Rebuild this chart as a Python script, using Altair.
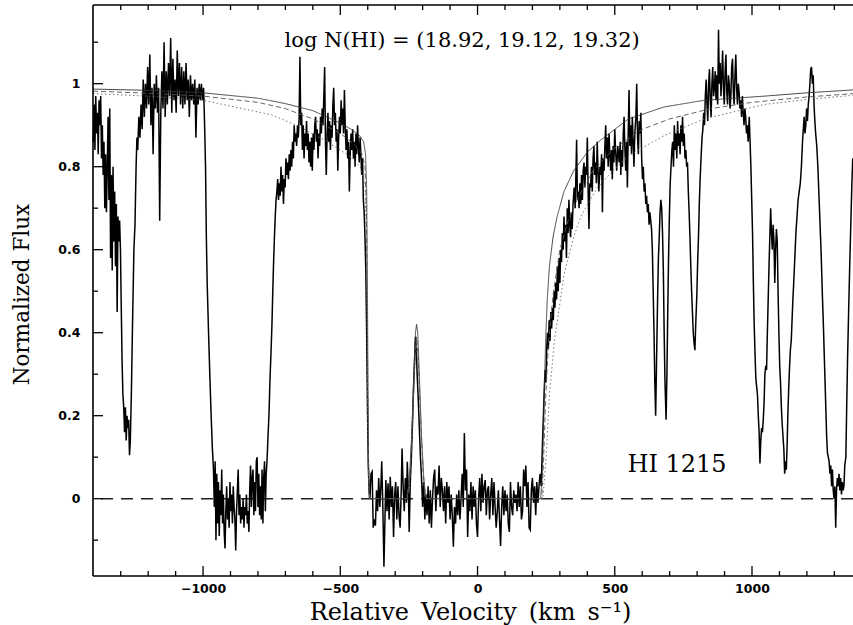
import altair as alt
import pandas as pd

# ---------------- data ----------------
# Observed spectrum, (relative velocity km/s, normalized flux), in segments
seg_a = [(-1400, 0.86), (-1397, 0.95), (-1394, 0.84), (-1391, 0.97), (-1388, 0.88), (-1385, 0.93),
         (-1382, 0.83), (-1379, 0.96), (-1376, 0.90), (-1373, 0.97), (-1370, 0.82), (-1367, 0.90),
         (-1364, 0.78), (-1361, 0.86), (-1358, 0.70), (-1355, 0.83), (-1352, 0.69), (-1349, 0.80),
         (-1346, 0.92), (-1343, 0.72), (-1340, 0.94), (-1337, 0.58), (-1334, 0.78), (-1331, 0.55),
         (-1328, 0.80), (-1325, 0.62), (-1322, 0.74), (-1319, 0.56), (-1316, 0.71), (-1313, 0.45),
         (-1310, 0.68), (-1307, 0.62), (-1304, 0.67), (-1301, 0.60), (-1298, 0.46), (-1295, 0.33),
         (-1292, 0.25), (-1289, 0.22), (-1286, 0.16), (-1283, 0.22), (-1280, 0.14), (-1277, 0.20),
         (-1274, 0.17), (-1271, 0.19), (-1268, 0.105), (-1265, 0.14), (-1261, 0.26), (-1257, 0.42),
         (-1252, 0.60), (-1248, 0.66), (-1244, 0.80), (-1241, 0.87)]
seg_b = [(-1238, 0.84), (-1234, 0.92), (-1230, 0.87), (-1226, 0.95), (-1222, 0.89), (-1218, 1.01),
         (-1214, 0.92), (-1210, 1.00), (-1206, 0.94), (-1202, 1.04), (-1198, 0.95), (-1194, 1.07),
         (-1190, 0.90), (-1186, 0.99), (-1182, 0.83), (-1178, 1.00), (-1174, 0.94), (-1170, 1.02),
         (-1166, 0.93), (-1162, 0.99), (-1158, 0.67), (-1154, 0.93), (-1150, 1.03), (-1146, 0.94),
         (-1142, 1.10), (-1138, 0.92), (-1134, 1.03), (-1130, 0.95), (-1126, 1.05), (-1122, 0.97),
         (-1118, 1.11), (-1114, 0.93), (-1110, 1.06), (-1106, 0.96), (-1102, 1.01), (-1098, 0.93),
         (-1094, 1.08), (-1090, 0.97), (-1086, 1.05), (-1082, 0.95), (-1078, 1.04), (-1074, 0.94),
         (-1070, 1.03), (-1066, 0.95), (-1062, 1.05), (-1058, 0.96), (-1054, 1.01), (-1050, 0.92),
         (-1046, 1.02), (-1042, 0.96), (-1038, 1.00), (-1034, 0.95), (-1030, 1.01), (-1026, 0.87),
         (-1022, 0.99), (-1018, 0.95), (-1014, 1.00), (-1010, 0.96), (-1006, 1.00), (-1002, 0.96),
         (-998, 0.99), (-994, 0.89), (-991, 0.80), (-988, 0.63), (-985, 0.52), (-980, 0.40),
         (-975, 0.29), (-970, 0.19), (-966, 0.12), (-962, 0.07)]
seg_c = [(-959, -0.02), (-956, 0.09), (-953, -0.10), (-950, 0.06), (-947, -0.06), (-944, 0.04),
         (-941, -0.09), (-938, 0.02), (-935, -0.04), (-932, 0.07), (-929, -0.06), (-926, 0.01),
         (-923, -0.08), (-920, -0.12), (-917, -0.03), (-914, 0.03), (-911, -0.05), (-908, 0.00),
         (-905, -0.07), (-902, 0.04), (-899, -0.03), (-896, 0.01), (-893, -0.06), (-890, 0.03),
         (-887, -0.02), (-884, -0.05), (-881, -0.125), (-878, -0.03), (-875, 0.02), (-872, 0.07),
         (-869, -0.04), (-866, 0.01), (-863, -0.06), (-860, -0.02), (-857, -0.05), (-854, 0.00),
         (-851, -0.07), (-848, -0.02), (-845, -0.04), (-842, 0.01), (-839, -0.06), (-836, -0.03),
         (-833, -0.08), (-830, 0.02), (-827, 0.08), (-824, -0.02), (-821, 0.05), (-818, 0.07),
         (-815, -0.04), (-812, 0.04), (-809, -0.03), (-806, 0.09), (-803, 0.10), (-800, -0.02),
         (-797, 0.06), (-794, -0.04), (-791, 0.03), (-788, -0.05), (-785, 0.07), (-782, -0.06),
         (-779, 0.05), (-776, 0.09), (-773, -0.03), (-770, 0.06), (-767, 0.09), (-764, 0.14),
         (-760, 0.20), (-756, 0.29), (-752, 0.36), (-749, 0.42), (-746, 0.50), (-743, 0.57),
         (-740, 0.63), (-737, 0.68), (-734, 0.72), (-731, 0.74)]
seg_d = [(-728, 0.77), (-725, 0.72), (-722, 0.76), (-719, 0.73), (-716, 0.80), (-713, 0.74),
         (-710, 0.78), (-707, 0.71), (-704, 0.77), (-701, 0.75), (-698, 0.82), (-695, 0.78),
         (-692, 0.81), (-689, 0.77), (-686, 0.83), (-683, 0.79), (-680, 0.84), (-677, 0.80),
         (-674, 0.86), (-671, 0.82), (-668, 0.90), (-665, 0.86), (-662, 0.88), (-659, 0.85),
         (-656, 0.90), (-653, 0.87), (-650, 0.92), (-647, 1.065), (-644, 0.90), (-641, 0.93),
         (-638, 0.84), (-635, 0.90), (-632, 0.82), (-629, 0.88), (-626, 0.85), (-623, 0.91),
         (-620, 0.84), (-617, 0.88), (-614, 0.81), (-611, 0.86), (-608, 0.80), (-605, 0.87),
         (-602, 0.79), (-599, 0.88), (-596, 0.84), (-593, 0.90), (-590, 0.92), (-587, 0.86),
         (-584, 0.89), (-581, 0.82), (-578, 0.88), (-575, 0.85), (-572, 0.92), (-569, 0.88),
         (-566, 0.94), (-563, 0.90), (-560, 0.97), (-557, 1.04), (-554, 0.86), (-551, 0.78),
         (-548, 0.88), (-545, 0.93), (-542, 0.86), (-539, 0.91), (-536, 0.84), (-533, 0.90),
         (-530, 0.87), (-527, 0.95), (-524, 0.99), (-521, 0.90), (-518, 0.93), (-515, 0.86),
         (-512, 0.89), (-509, 0.79), (-506, 0.87), (-503, 0.92), (-500, 0.88), (-497, 0.96),
         (-494, 0.90), (-491, 0.94), (-488, 0.88), (-485, 0.985), (-482, 0.90), (-479, 0.84),
         (-476, 0.89), (-473, 0.82), (-470, 0.86), (-467, 0.74), (-464, 0.83), (-461, 0.88),
         (-458, 0.84), (-455, 0.89), (-452, 0.82), (-449, 0.86), (-446, 0.80), (-443, 0.88),
         (-440, 0.83), (-437, 0.90), (-434, 0.85), (-431, 0.81), (-428, 0.87), (-425, 0.83),
         (-422, 0.78), (-419, 0.82), (-416, 0.72), (-413, 0.69), (-410, 0.63), (-407, 0.55),
         (-404, 0.40), (-401, 0.22), (-398, 0.08), (-395, 0.02)]
seg_e = [(-392, 0.0), (-388, 0.06), (-384, 0.065), (-380, -0.07), (-376, -0.05), (-372, -0.065),
         (-368, 0.02), (-364, -0.03), (-360, 0.05), (-356, -0.02), (-352, 0.03), (-349, 0.09),
         (-345, -0.02), (-341, -0.164), (-337, -0.04), (-334, 0.045), (-330, -0.03), (-326, 0.037),
         (-322, -0.05), (-318, 0.053), (-314, -0.02), (-310, 0.03), (-306, -0.092), (-302, 0.01),
         (-298, 0.04), (-294, -0.05), (-290, 0.03), (-286, -0.04), (-282, -0.07), (-278, 0.02),
         (-275, 0.121), (-271, 0.03), (-267, -0.03), (-263, 0.05), (-259, -0.01), (-256, 0.089),
         (-252, 0.02), (-249, -0.08), (-245, 0.04), (-241, 0.10), (-237, 0.18), (-233, 0.27),
         (-229, 0.34), (-226, 0.39), (-223, 0.36), (-220, 0.30), (-216, 0.24), (-212, 0.17),
         (-208, 0.10), (-204, 0.05), (-200, -0.02), (-196, 0.04), (-192, -0.05), (-188, 0.01),
         (-184, -0.04), (-180, 0.03), (-176, -0.06), (-172, 0.02), (-168, -0.07), (-164, 0.00),
         (-160, 0.05), (-156, 0.07), (-152, -0.03), (-148, 0.03), (-144, 0.01), (-140, 0.08),
         (-136, -0.02), (-132, 0.05), (-128, 0.02), (-124, -0.03), (-120, 0.03), (-116, -0.06),
         (-112, 0.04), (-108, -0.01), (-104, 0.03), (-100, -0.05), (-96, 0.01), (-92, -0.04),
         (-88, -0.116), (-84, -0.02), (-80, -0.06), (-76, 0.01), (-72, -0.04), (-68, 0.02),
         (-64, -0.05), (-60, 0.00), (-56, 0.06), (-52, -0.02), (-48, 0.158), (-44, 0.02),
         (-40, 0.07), (-36, -0.092), (-32, 0.01), (-28, -0.03), (-24, 0.04), (-20, -0.05),
         (-16, 0.03), (-12, -0.02), (-8, 0.02), (-4, -0.06), (0, -0.092), (4, 0.0), (8, 0.05),
         (12, -0.03), (16, 0.06), (20, -0.01), (24, 0.03), (28, 0.045), (32, -0.04), (36, 0.02),
         (40, 0.03), (44, -0.05), (48, 0.01), (52, 0.05), (56, -0.04), (60, 0.04), (64, -0.02),
         (68, -0.07), (72, -0.03), (76, 0.02), (80, -0.05), (84, -0.114), (88, -0.02), (92, 0.03),
         (96, -0.04), (100, 0.02), (104, -0.03), (108, 0.01), (112, -0.06), (116, -0.08),
         (120, 0.04), (124, -0.02), (128, -0.04), (132, 0.02), (136, -0.01), (140, 0.01),
         (144, -0.03), (148, 0.04), (152, -0.02), (156, 0.03), (160, -0.05), (164, -0.03),
         (168, 0.07), (172, 0.03), (176, 0.08), (180, -0.02), (184, 0.04), (188, -0.07),
         (192, -0.075), (196, 0.02), (200, 0.05), (204, -0.01), (208, 0.03), (212, -0.04),
         (216, 0.04), (220, -0.01), (224, 0.03), (228, 0.06), (232, 0.03)]
seg_f = [(236, 0.12), (240, 0.20), (243, 0.26), (246, 0.31), (249, 0.28), (252, 0.36), (255, 0.40),
         (258, 0.36), (261, 0.43), (264, 0.38), (267, 0.45), (270, 0.41), (273, 0.46), (276, 0.43),
         (279, 0.50), (282, 0.46), (285, 0.52), (288, 0.48), (291, 0.56), (294, 0.50), (297, 0.58),
         (300, 0.52), (303, 0.60), (306, 0.57), (309, 0.64), (312, 0.60), (315, 0.68), (318, 0.62),
         (321, 0.66), (324, 0.58), (327, 0.70), (330, 0.64), (333, 0.72), (336, 0.66), (339, 0.63),
         (342, 0.69), (345, 0.65), (348, 0.71), (352, 0.75), (356, 0.70), (359, 0.80), (361, 0.865),
         (364, 0.72), (367, 0.74), (370, 0.70), (373, 0.76), (376, 0.71), (379, 0.78), (382, 0.72),
         (385, 0.79), (388, 0.81), (391, 0.75), (394, 0.80), (397, 0.78), (400, 0.87), (403, 0.74),
         (406, 0.65), (409, 0.76), (412, 0.75), (415, 0.80), (418, 0.74), (421, 0.82), (424, 0.85),
         (427, 0.78), (430, 0.81), (433, 0.76), (436, 0.86), (439, 0.79), (442, 0.74), (446, 0.80),
         (449, 0.78), (452, 0.83), (455, 0.69), (458, 0.82), (461, 0.79), (464, 0.85), (467, 0.90),
         (470, 0.82), (473, 0.87), (476, 0.80), (479, 0.88), (482, 0.83), (485, 0.79), (488, 0.84),
         (491, 0.77), (494, 0.85), (497, 0.81), (500, 0.89), (503, 0.84), (507, 0.79), (511, 0.85),
         (516, 0.81), (520, 0.86), (522, 0.78), (525, 0.84), (528, 0.80), (531, 0.88), (534, 0.92),
         (537, 0.84), (540, 0.79), (543, 0.86), (546, 0.75), (549, 0.88), (552, 0.985), (555, 0.85),
         (558, 0.90), (561, 0.83), (564, 0.92), (567, 0.86), (570, 0.80), (573, 0.88), (577, 0.92),
         (580, 1.00), (583, 0.87), (586, 0.83), (589, 0.91), (592, 0.88), (595, 0.93), (598, 0.82),
         (601, 0.77), (604, 0.80), (607, 0.74), (610, 0.76), (613, 0.71), (616, 0.73), (619, 0.69),
         (622, 0.71), (625, 0.66), (628, 0.69), (631, 0.67), (634, 0.65), (637, 0.60), (640, 0.50),
         (643, 0.40), (646, 0.28), (649, 0.20), (652, 0.32), (656, 0.48), (659, 0.58), (662, 0.63),
         (665, 0.69), (668, 0.72), (671, 0.70), (674, 0.64), (677, 0.55), (680, 0.40), (683, 0.28),
         (687, 0.19), (690, 0.30), (693, 0.45), (696, 0.58), (699, 0.68), (702, 0.76), (705, 0.80)]
seg_g = [(708, 0.84), (711, 0.86), (714, 0.80), (717, 0.90), (720, 0.84), (723, 0.88), (726, 0.82),
         (729, 0.91), (732, 0.85), (735, 0.88), (738, 0.83), (741, 0.90), (744, 0.86), (747, 0.92),
         (750, 0.85), (753, 0.88), (756, 0.82), (759, 0.84), (762, 0.80), (765, 0.81), (768, 0.74),
         (771, 0.69), (774, 0.63), (777, 0.56), (780, 0.50), (783, 0.45), (786, 0.40), (789, 0.375),
         (792, 0.358), (795, 0.42), (799, 0.49), (802, 0.57), (805, 0.63), (808, 0.71), (811, 0.77),
         (815, 0.83), (818, 0.87), (821, 0.89), (824, 0.93), (827, 0.90), (830, 0.97), (833, 1.01),
         (836, 0.95), (839, 0.91), (842, 1.00), (845, 1.035), (848, 0.96), (851, 0.92), (854, 1.00),
         (857, 1.04), (860, 0.97), (863, 0.99), (866, 1.03), (869, 0.96), (872, 1.02), (875, 0.95),
         (878, 1.13), (881, 1.00), (884, 1.05), (887, 0.97), (890, 1.02), (893, 1.08), (896, 0.99),
         (899, 0.95), (902, 1.03), (905, 1.07), (908, 0.98), (911, 0.95), (914, 1.02), (917, 1.00),
         (920, 0.94), (923, 0.97), (926, 1.04), (929, 1.06), (932, 0.98), (935, 0.95), (938, 1.02),
         (941, 1.07), (944, 0.99), (947, 0.95), (950, 1.00), (953, 0.98), (956, 0.94), (959, 0.96),
         (962, 0.92), (965, 0.97), (968, 0.93), (971, 0.90), (974, 0.94), (977, 0.92), (980, 0.88),
         (983, 0.90), (986, 0.86), (990, 0.92), (993, 0.86), (996, 0.80), (999, 0.72), (1002, 0.64),
         (1005, 0.52), (1008, 0.42), (1011, 0.35), (1014, 0.29), (1017, 0.27), (1020, 0.25),
         (1023, 0.20), (1026, 0.16), (1029, 0.085), (1032, 0.14), (1035, 0.17), (1038, 0.16),
         (1041, 0.19), (1044, 0.23), (1047, 0.30), (1050, 0.32), (1053, 0.31), (1056, 0.40),
         (1059, 0.48), (1062, 0.56), (1065, 0.63), (1068, 0.70), (1071, 0.64), (1074, 0.60),
         (1077, 0.66), (1080, 0.62), (1083, 0.52), (1086, 0.60), (1089, 0.65), (1092, 0.62),
         (1095, 0.50), (1098, 0.40), (1101, 0.32), (1104, 0.28), (1107, 0.22), (1110, 0.18),
         (1113, 0.15), (1116, 0.12), (1119, 0.06), (1122, 0.09), (1125, 0.07), (1128, 0.13),
         (1131, 0.21), (1134, 0.27), (1137, 0.32), (1140, 0.36), (1143, 0.38), (1146, 0.43),
         (1149, 0.48), (1152, 0.52), (1156, 0.58), (1160, 0.64), (1164, 0.68), (1168, 0.72),
         (1172, 0.74), (1176, 0.76), (1180, 0.80), (1184, 0.86), (1187, 0.89), (1190, 0.92),
         (1193, 0.88), (1196, 0.90), (1199, 0.94), (1202, 0.91), (1205, 0.95), (1208, 0.97),
         (1211, 1.00), (1214, 1.035), (1217, 1.04), (1220, 1.00), (1223, 1.02), (1226, 0.95),
         (1229, 0.91), (1232, 0.88), (1236, 0.85), (1240, 0.80), (1244, 0.73), (1248, 0.66),
         (1252, 0.59), (1256, 0.50), (1260, 0.42), (1264, 0.33), (1268, 0.24), (1272, 0.15),
         (1275, 0.11), (1278, 0.10), (1281, 0.09), (1284, 0.06), (1287, 0.08), (1290, 0.03),
         (1293, 0.07), (1296, 0.02), (1299, 0.00), (1302, 0.03), (1305, -0.07), (1308, 0.02),
         (1311, 0.05), (1314, 0.03), (1317, 0.06), (1320, 0.02), (1323, 0.05), (1326, 0.01),
         (1329, 0.04), (1332, 0.02), (1335, 0.03), (1338, 0.08), (1342, 0.10), (1345, 0.22),
         (1348, 0.33), (1352, 0.45), (1356, 0.56), (1360, 0.66), (1364, 0.76), (1367, 0.82)]

# Model profiles for log N(HI) = 18.92 (upper), 19.12 (middle), 19.32 (lower)
model_1892 = [(-1401, 0.987), (-1200, 0.984), (-1000, 0.978), (-800, 0.965), (-700, 0.952),
              (-600, 0.935), (-500, 0.905), (-460, 0.89), (-430, 0.875), (-415, 0.86), (-408, 0.83),
              (-404, 0.75), (-401, 0.5), (-399, 0.25), (-397, 0.08), (-395, 0.0), (-258, 0.0),
              (-250, 0.03), (-240, 0.15), (-232, 0.30), (-226, 0.40), (-222, 0.42), (-218, 0.40),
              (-212, 0.30), (-204, 0.15), (-196, 0.05), (-188, 0.0), (230, 0.0), (236, 0.06),
              (242, 0.22), (248, 0.38), (254, 0.48), (262, 0.56), (275, 0.63), (290, 0.68),
              (315, 0.74), (350, 0.79), (400, 0.835), (450, 0.865), (550, 0.915), (680, 0.944),
              (826, 0.96), (1045, 0.97), (1200, 0.978), (1368, 0.985)]
model_1912 = [(-1401, 0.982), (-1200, 0.977), (-1000, 0.97), (-800, 0.955), (-700, 0.94),
              (-600, 0.915), (-500, 0.88), (-450, 0.855), (-420, 0.83), (-410, 0.80), (-405, 0.70),
              (-402, 0.45), (-399, 0.2), (-396, 0.05), (-393, 0.0), (-256, 0.0), (-246, 0.05),
              (-236, 0.2), (-228, 0.34), (-222, 0.39), (-216, 0.34), (-208, 0.2), (-198, 0.06),
              (-190, 0.0), (234, 0.0), (240, 0.08), (248, 0.24), (258, 0.37), (275, 0.49),
              (300, 0.60), (330, 0.67), (370, 0.73), (420, 0.79), (500, 0.845), (600, 0.89),
              (700, 0.915), (850, 0.94), (1000, 0.955), (1200, 0.968), (1368, 0.976)]
model_1932 = [(-1401, 0.976), (-1200, 0.97), (-1000, 0.96), (-750, 0.925), (-660, 0.90),
              (-560, 0.865), (-465, 0.825), (-427, 0.80), (-410, 0.76), (-405, 0.62), (-402, 0.35),
              (-399, 0.12), (-396, 0.02), (-392, 0.0), (-258, 0.0), (-248, 0.04), (-238, 0.17),
              (-228, 0.32), (-222, 0.37), (-215, 0.31), (-205, 0.16), (-195, 0.04), (-186, 0.0),
              (238, 0.0), (250, 0.10), (262, 0.25), (280, 0.38), (300, 0.47), (315, 0.54),
              (350, 0.63), (376, 0.68), (437, 0.75), (500, 0.795), (558, 0.83), (680, 0.875),
              (826, 0.915), (1045, 0.95), (1200, 0.962), (1368, 0.972)]

x_major = [-1000, -500, 0, 500, 1000]
x_minor = [-1300, -1200, -1100, -900, -800, -700, -600, -400, -300, -200, -100,
           100, 200, 300, 400, 600, 700, 800, 900, 1100, 1200, 1300]
y_major = [0, 0.2, 0.4, 0.6, 0.8, 1.0]
y_minor = [-0.1, 0.1, 0.3, 0.5, 0.7, 0.9, 1.1]

annotations = [(-56, 1.103, "log N(HI) = (18.92, 19.12, 19.32)", 21),
               (727, 0.08, "HI 1215", 24)]

# ---------------- chart ----------------
W, H = 760, 571
XDOM = [-1401, 1368]
YDOM = [-0.1863, 1.1896]

def frame(pairs):
    return pd.DataFrame({"v": [p[0] for p in pairs], "f": [p[1] for p in pairs],
                         "i": list(range(len(pairs)))})

spec = frame(seg_a + seg_b + seg_c + seg_d + seg_e + seg_f + seg_g)

xs = alt.Scale(domain=XDOM, nice=False, zero=False)
ys = alt.Scale(domain=YDOM, nice=False, zero=False)

x_axis = alt.Axis(values=x_major, format="d", ticks=False, tickSize=0, domain=False, grid=False,
                  labelPadding=6, labelFont="DejaVu Sans", labelFontWeight="bold", labelFontSize=12.5,
                  labelColor="black", labelOverlap=False,
                  title="Relative\u2002Velocity\u2002(km\u2002s\u207b\u00b9)", titleFont="DejaVu Serif",
                  titleFontSize=24, titleFontWeight="normal", titleColor="black",
                  titleX=377, titleY=43, titleBaseline="alphabetic", titleAlign="center")
y_axis = alt.Axis(values=y_major, format="~g", ticks=False, tickSize=0, domain=False, grid=False,
                  labelPadding=13, labelFont="DejaVu Sans", labelFontWeight="bold", labelFontSize=12.5,
                  labelColor="black", labelOverlap=False,
                  title="Normalized Flux", titleFont="DejaVu Serif", titleFontSize=21.5,
                  titleFontWeight="normal", titleColor="black",
                  titleX=-71, titleY=289, titleBaseline="middle", titleAlign="center")

X = alt.X("v:Q", scale=xs, axis=x_axis)
Y = alt.Y("f:Q", scale=ys, axis=y_axis)

zero = alt.Chart(pd.DataFrame({"f": [0.0]})).mark_rule(
    color="#222", strokeWidth=1.4, strokeDash=[12, 8]).encode(y=Y)

spec_line = alt.Chart(spec).mark_line(color="black", strokeWidth=1.5).encode(
    x=X, y=Y, order="i:Q")

def model_layer(pairs, dash, color, width):
    return alt.Chart(frame(pairs)).mark_line(
        color=color, strokeWidth=width, strokeDash=dash, opacity=0.9).encode(x=X, y=Y, order="i:Q")

m1 = model_layer(model_1892, [1, 0], "#333333", 1.0)
m2 = model_layer(model_1912, [5, 3], "#555555", 1.0)
m3 = model_layer(model_1932, [1.5, 2.5], "#666666", 1.0)

xt_major = pd.DataFrame({"v": x_major})
xt_minor = pd.DataFrame({"v": x_minor})
yt_major = pd.DataFrame({"f": y_major})
yt_minor = pd.DataFrame({"f": y_minor})

tk = dict(color="black", strokeWidth=1.3)
ticks = [
    alt.Chart(xt_major).mark_rule(**tk).encode(x=X, y=alt.value(H), y2=alt.value(H - 10)),
    alt.Chart(xt_major).mark_rule(**tk).encode(x=X, y=alt.value(0), y2=alt.value(10)),
    alt.Chart(xt_minor).mark_rule(**tk).encode(x=X, y=alt.value(H), y2=alt.value(H - 5)),
    alt.Chart(xt_minor).mark_rule(**tk).encode(x=X, y=alt.value(0), y2=alt.value(5)),
    alt.Chart(yt_major).mark_rule(**tk).encode(y=Y, x=alt.value(0), x2=alt.value(10)),
    alt.Chart(yt_minor).mark_rule(**tk).encode(y=Y, x=alt.value(0), x2=alt.value(5)),
]

one = pd.DataFrame({"k": [0]})
bd = dict(color="black", strokeWidth=1.6)
borders = [
    alt.Chart(one).mark_rule(**bd).encode(x=alt.value(0), y=alt.value(0), y2=alt.value(H)),
    alt.Chart(one).mark_rule(**bd).encode(x=alt.value(0), x2=alt.value(W), y=alt.value(0)),
    alt.Chart(one).mark_rule(**bd).encode(x=alt.value(0), x2=alt.value(W), y=alt.value(H)),
]

texts = []
for v, f, label, size in annotations:
    d = pd.DataFrame({"v": [v], "f": [f], "t": [label]})
    texts.append(alt.Chart(d).mark_text(font="DejaVu Serif", fontSize=size, color="black",
                                        align="center", baseline="middle").encode(x=X, y=Y, text="t:N"))

chart = alt.layer(zero, spec_line, m1, m2, m3, *ticks, *borders, *texts).properties(
    width=W, height=H,
    autosize=alt.AutoSizeParams(type="none"),
    padding={"left": 93, "top": 5, "right": 0, "bottom": 49},
    background="white",
).configure_view(stroke=None)

chart.save("out.html", embed_options={"renderer": "svg", "actions": False})
